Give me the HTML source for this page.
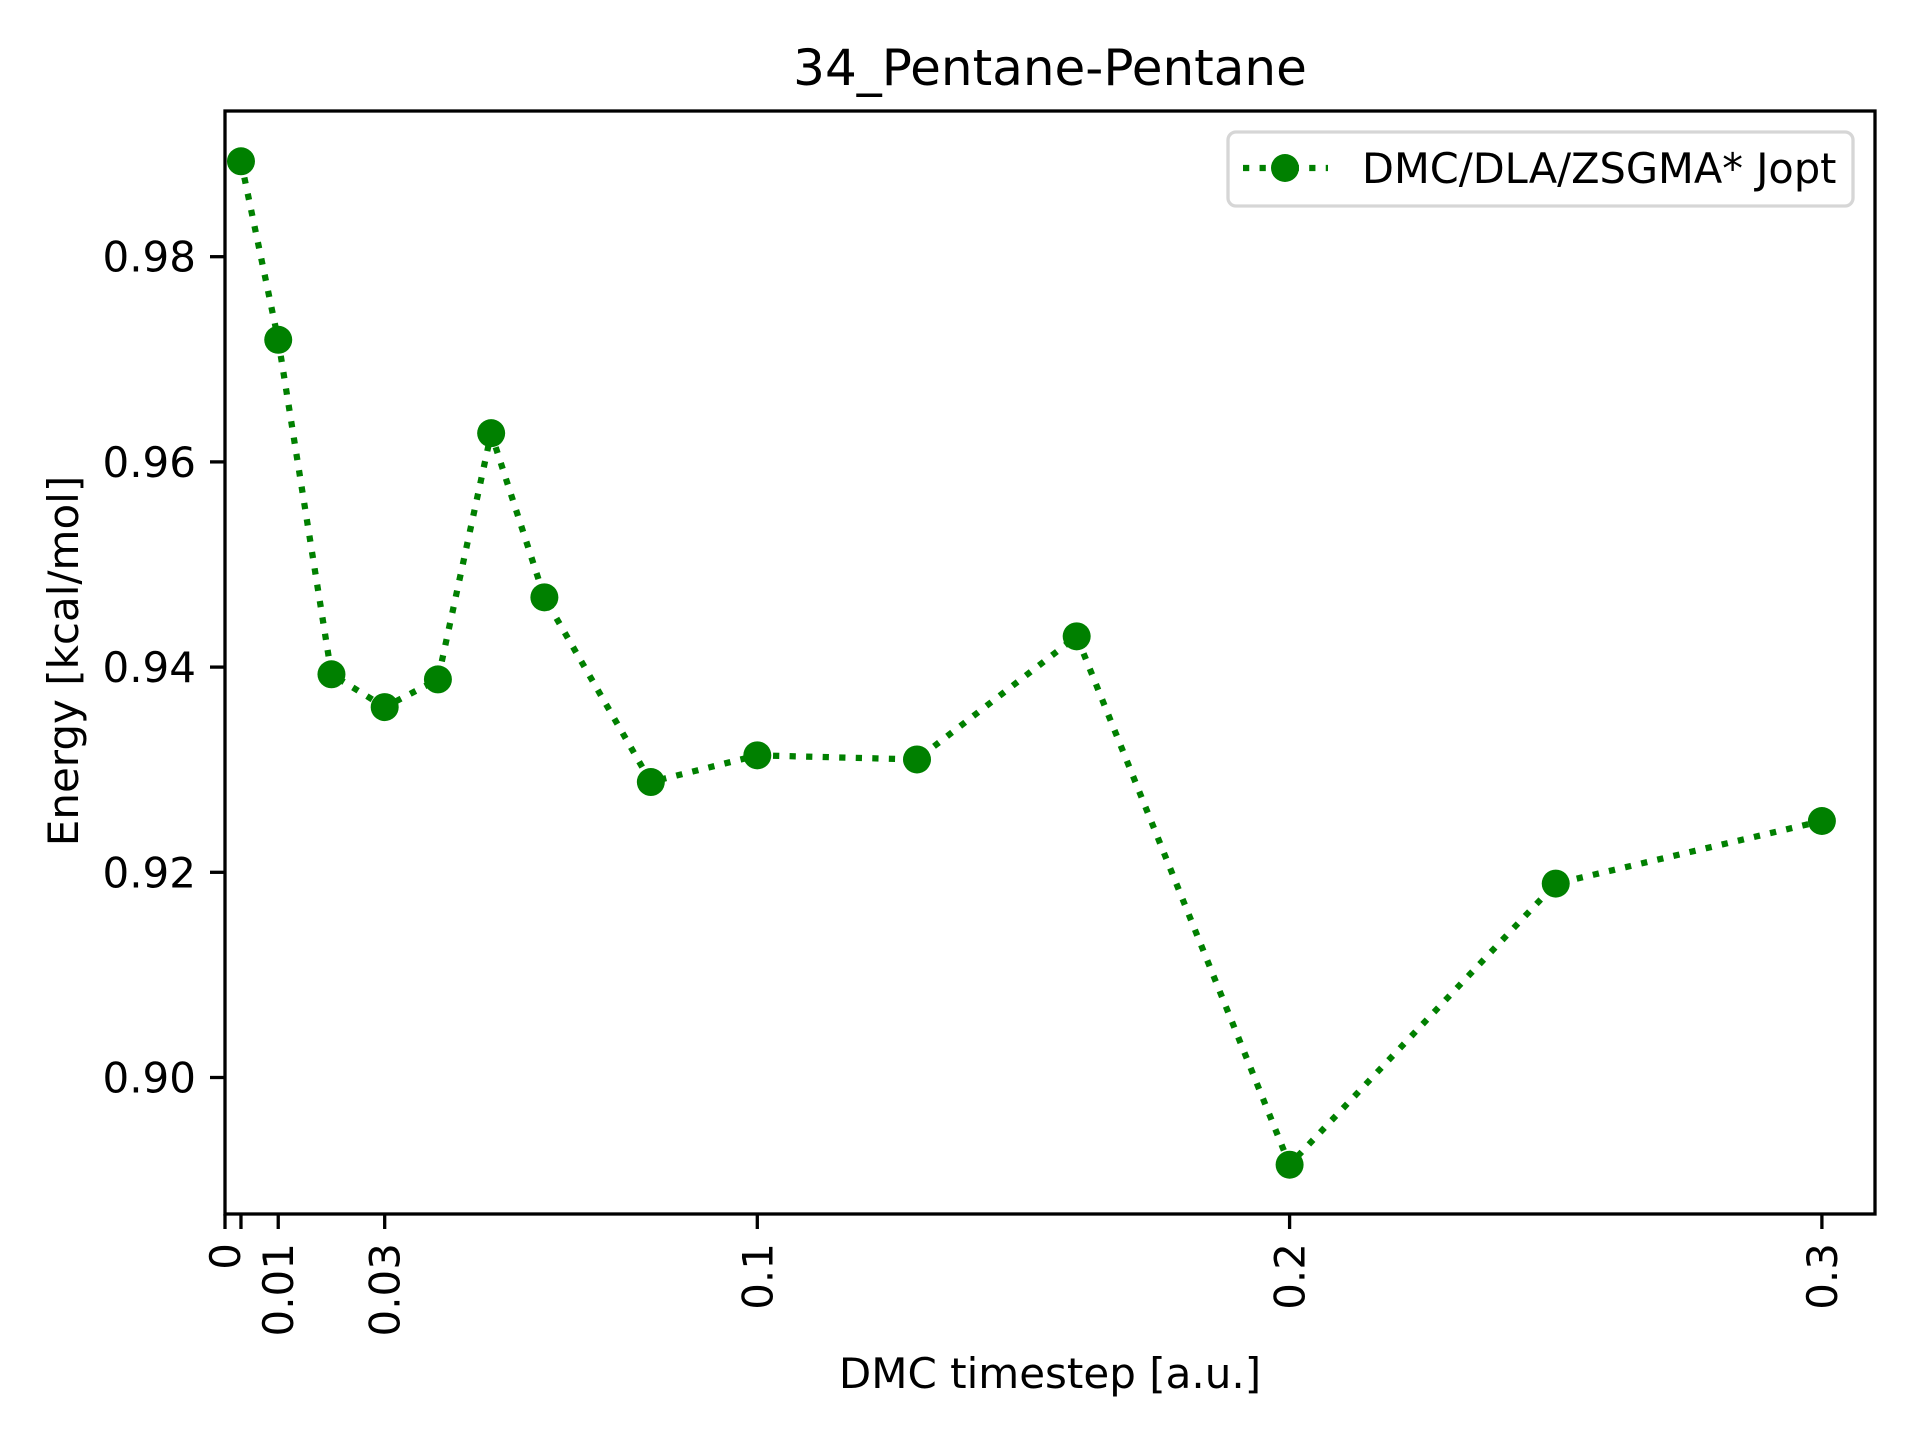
<!DOCTYPE html>
<html><head><meta charset="utf-8"><style>
html,body{margin:0;padding:0;background:#fff;}
svg text{font-family:"DejaVu Sans","Liberation Sans",sans-serif;fill:#000;}
</style></head><body>
<svg id="chart" width="1920" height="1440" viewBox="0 0 1920 1440" xmlns="http://www.w3.org/2000/svg">
<rect width="1920" height="1440" fill="#fff"/>
<text x="1050" y="85" font-size="50" text-anchor="middle">34_Pentane-Pentane</text>
<g id="plot"></g>
<rect x="225" y="111" width="1650" height="1103" fill="none" stroke="#000" stroke-width="3.3"/>
<text x="1050" y="1388" font-size="42" text-anchor="middle">DMC timestep [a.u.]</text>
<text transform="translate(78,661) rotate(-90)" font-size="42" text-anchor="middle">Energy [kcal/mol]</text>
<g>
<rect x="1228" y="132" width="625" height="74" rx="8" fill="#fff" stroke="#d6d6d6" stroke-width="3.3"/>
<line x1="1243" y1="168" x2="1328" y2="168" stroke="#008000" stroke-width="6.25" stroke-dasharray="6.25,10.3"/>
<circle cx="1285" cy="168" r="14" fill="#008000"/>
<text x="1362" y="183" font-size="41.5">DMC/DLA/ZSGMA* Jopt</text>
</g>
</svg>
<script>
const timesteps=[0.003,0.01,0.02,0.03,0.04,0.05,0.06,0.08,0.1,0.13,0.16,0.2,0.25,0.3];
const energies=[0.9893,0.9719,0.9393,0.9361,0.9388,0.9628,0.9468,0.9288,0.9314,0.9310,0.9430,0.8915,0.9189,0.9250];
const xTicks=[0,0.003,0.01,0.03,0.1,0.2,0.3];
const xTickLabels=["0","","0.01","0.03","0.1","0.2","0.3"];
const yTicks=[0.90,0.92,0.94,0.96,0.98];
const yTickLabels=["0.90","0.92","0.94","0.96","0.98"];
const NS="http://www.w3.org/2000/svg";
const X=v=>225+v*5323;
const Y=v=>256.7+(0.98-v)/0.02*205.2;
const g=document.getElementById('plot');
function mk(t,a){const e=document.createElementNS(NS,t);for(const k in a)e.setAttribute(k,a[k]);return e;}
xTicks.forEach((t,i)=>{
 const l=mk('line',{x1:X(t),x2:X(t),y1:1214,y2:1229,stroke:'#000','stroke-width':3.3});
 
 
 g.appendChild(l);
 if(xTickLabels[i]){
 const tx=mk('text',{transform:`translate(${X(t)+15},1243) rotate(-90)`,'font-size':42,'text-anchor':'end'});
 tx.textContent=xTickLabels[i];
 
 
 g.appendChild(tx);}
});
yTicks.forEach((t,i)=>{
 const l=mk('line',{x1:210,x2:225,y1:Y(t),y2:Y(t),stroke:'#000','stroke-width':3.3});
 
 
 g.appendChild(l);
 const tx=mk('text',{x:196,y:Y(t)+15,'font-size':42,'text-anchor':'end'});
 tx.textContent=yTickLabels[i];
 
 
 g.appendChild(tx);
});
const pts=timesteps.map((t,i)=>X(t)+','+Y(energies[i])).join(' ');
const pl=mk('polyline',{points:pts,fill:'none',stroke:'#008000','stroke-width':6.25,'stroke-dasharray':'6.25,10.3'});


g.appendChild(pl);
timesteps.forEach((t,i)=>{
 const c=mk('circle',{cx:X(t),cy:Y(energies[i]),r:14,fill:'#008000'});
 
 
 g.appendChild(c);
});
</script>
</body></html>
